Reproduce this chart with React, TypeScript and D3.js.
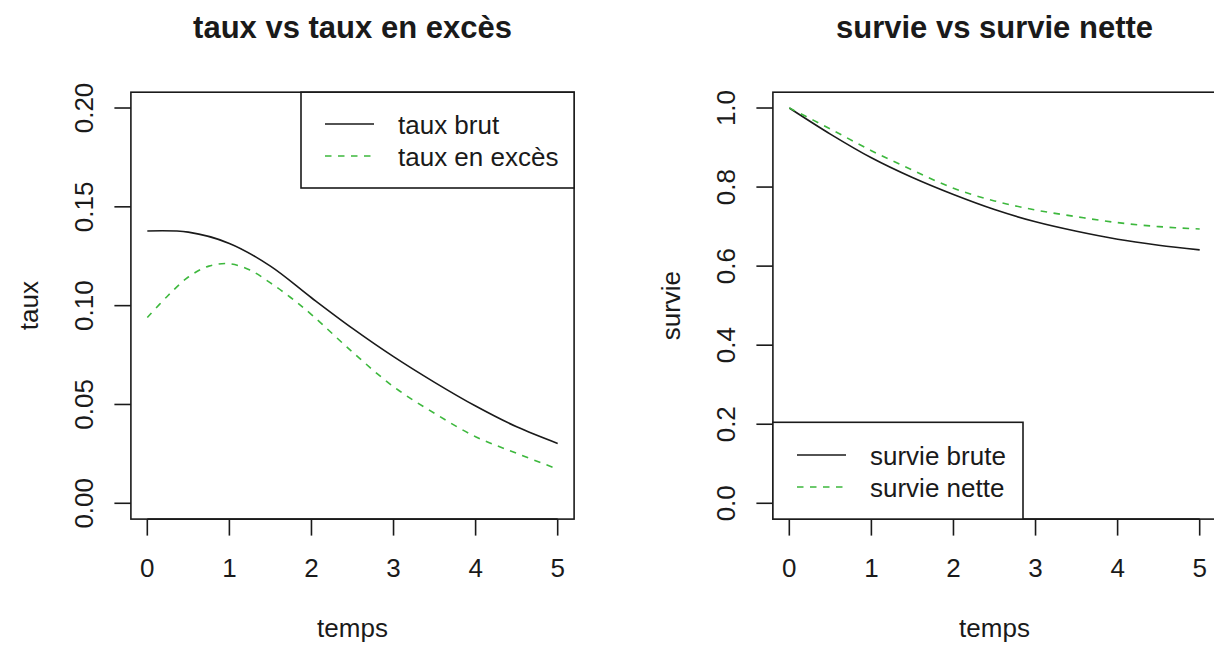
import React from "react";
import * as d3 from "d3";

const W = 1214;
const H = 646;

// time grids (temps)
const brutTime = [0, 0.5, 1, 1.5, 2, 2.5, 3, 3.5, 4, 4.5, 5];
const tauxBrut = [0.1378, 0.1372, 0.1315, 0.12, 0.104, 0.0885, 0.0742, 0.0612, 0.0492, 0.0387, 0.0303];
const excesTime = [0, 0.25, 0.5, 0.75, 1, 1.25, 1.5, 1.75, 2, 2.5, 3, 3.5, 4, 4.5, 5];
const tauxExces = [0.094, 0.105, 0.1145, 0.12, 0.1212, 0.118, 0.1115, 0.104, 0.0955, 0.0765, 0.059, 0.0455, 0.0337, 0.0253, 0.0173];

const survTime = [0, 0.5, 1, 1.5, 2, 2.5, 3, 3.5, 4, 4.5, 5];
const survieBrute = [1.0, 0.934, 0.874, 0.824, 0.781, 0.743, 0.712, 0.688, 0.668, 0.653, 0.641];
const survieNette = [1.0, 0.947, 0.892, 0.843, 0.797, 0.765, 0.742, 0.725, 0.71, 0.7, 0.694];

const xTicks = [0, 1, 2, 3, 4, 5];
const yTicksTaux = [0, 0.05, 0.1, 0.15, 0.2];
const yTicksSurvie = [0, 0.2, 0.4, 0.6, 0.8, 1.0];

const FONT = "'Liberation Sans', Arial, Helvetica, sans-serif";
const FS = 26;
const TITLE_FS = 31;
const GREEN = "#3DB83D";
const INK = "#1a1a1a";
const LW = 1.6;
const DASH = "6.5,6.5";

type Legend = {
  x0: number;
  x1: number;
  y0: number;
  y1: number;
  labels: [string, string];
  ly: [number, number];
  lineX: [number, number];
  textX: number;
};

type PanelProps = {
  offset: number;
  title: string;
  ylab: string;
  yDomain: [number, number];
  yTicks: number[];
  yFmt: (v: number) => string;
  t1: number[];
  s1: number[];
  t2: number[];
  s2: number[];
  legend: Legend;
};

function Panel(p: PanelProps) {
  const left = 130.9 + p.offset;
  const right = 574.1 + p.offset;
  const top = 92.2;
  const bottom = 519.1;
  const x = d3.scaleLinear().domain([-0.2, 5.2]).range([left, right]);
  const pad = (p.yDomain[1] - p.yDomain[0]) * 0.04;
  const y = d3.scaleLinear().domain([p.yDomain[0] - pad, p.yDomain[1] + pad]).range([bottom, top]);
  const mk = (ts: number[]) =>
    d3
      .line<number>()
      .x((_, i) => x(ts[i]))
      .y((d) => y(d))
      .curve(d3.curveCatmullRom.alpha(0.5));
  const cx = (left + right) / 2;
  const cy = (top + bottom) / 2;
  const tick = 16.5;
  const L = p.legend;
  return (
    <g fontFamily={FONT} fill={INK}>
      <text x={cx} y={37.5} textAnchor="middle" fontSize={TITLE_FS} fontWeight="bold">
        {p.title}
      </text>
      <path d={mk(p.t1)(p.s1) || ""} fill="none" stroke={INK} strokeWidth={LW} />
      <path d={mk(p.t2)(p.s2) || ""} fill="none" stroke={GREEN} strokeWidth={LW} strokeDasharray={DASH} />
      <rect x={left} y={top} width={right - left} height={bottom - top} fill="none" stroke={INK} strokeWidth={LW} />
      <line x1={x(xTicks[0])} x2={x(xTicks[xTicks.length - 1])} y1={bottom} y2={bottom} stroke={INK} strokeWidth={LW} />
      {xTicks.map((t) => (
        <g key={"xt" + t}>
          <line x1={x(t)} x2={x(t)} y1={bottom} y2={bottom + tick} stroke={INK} strokeWidth={LW} />
          <text x={x(t)} y={577} textAnchor="middle" fontSize={FS}>
            {String(t)}
          </text>
        </g>
      ))}
      {p.yTicks.map((v) => (
        <g key={"yt" + v}>
          <line x1={left - tick} x2={left} y1={y(v)} y2={y(v)} stroke={INK} strokeWidth={LW} />
          <text transform={`translate(${93 + p.offset},${y(v)}) rotate(-90)`} textAnchor="middle" fontSize={FS}>
            {p.yFmt(v)}
          </text>
        </g>
      ))}
      <text x={cx} y={637} textAnchor="middle" fontSize={FS}>
        temps
      </text>
      <text transform={`translate(${38 + p.offset},${cy}) rotate(-90)`} textAnchor="middle" fontSize={FS}>
        {p.ylab}
      </text>
      <rect x={L.x0} y={L.y0} width={L.x1 - L.x0} height={L.y1 - L.y0} fill="#fff" stroke={INK} strokeWidth={LW} />
      <line x1={L.lineX[0]} x2={L.lineX[1]} y1={L.ly[0]} y2={L.ly[0]} stroke={INK} strokeWidth={LW} />
      <line x1={L.lineX[0]} x2={L.lineX[1]} y1={L.ly[1]} y2={L.ly[1]} stroke={GREEN} strokeWidth={LW} strokeDasharray={DASH} />
      <text x={L.textX} y={L.ly[0] + 10} fontSize={FS}>
        {L.labels[0]}
      </text>
      <text x={L.textX} y={L.ly[1] + 10} fontSize={FS}>
        {L.labels[1]}
      </text>
    </g>
  );
}

export default function App() {
  return (
    <svg width={W} height={H} style={{ position: "absolute", left: 0, top: 0, background: "#fff" }}>
      <rect x={0} y={0} width={W} height={H} fill="#fff" />
      <Panel
        offset={0}
        title="taux vs taux en excès"
        ylab="taux"
        yDomain={[0, 0.2]}
        yTicks={yTicksTaux}
        yFmt={(v) => v.toFixed(2)}
        t1={brutTime}
        s1={tauxBrut}
        t2={excesTime}
        s2={tauxExces}
        legend={{ x0: 301, x1: 574.1, y0: 92.2, y1: 188, labels: ["taux brut", "taux en excès"], ly: [124, 156], lineX: [325, 374], textX: 398 }}
      />
      <Panel
        offset={642}
        title="survie vs survie nette"
        ylab="survie"
        yDomain={[0, 1]}
        yTicks={yTicksSurvie}
        yFmt={(v) => v.toFixed(1)}
        t1={survTime}
        s1={survieBrute}
        t2={survTime}
        s2={survieNette}
        legend={{ x0: 772.9, x1: 1023, y0: 422.3, y1: 519.1, labels: ["survie brute", "survie nette"], ly: [455, 487], lineX: [797, 846], textX: 870 }}
      />
    </svg>
  );
}
